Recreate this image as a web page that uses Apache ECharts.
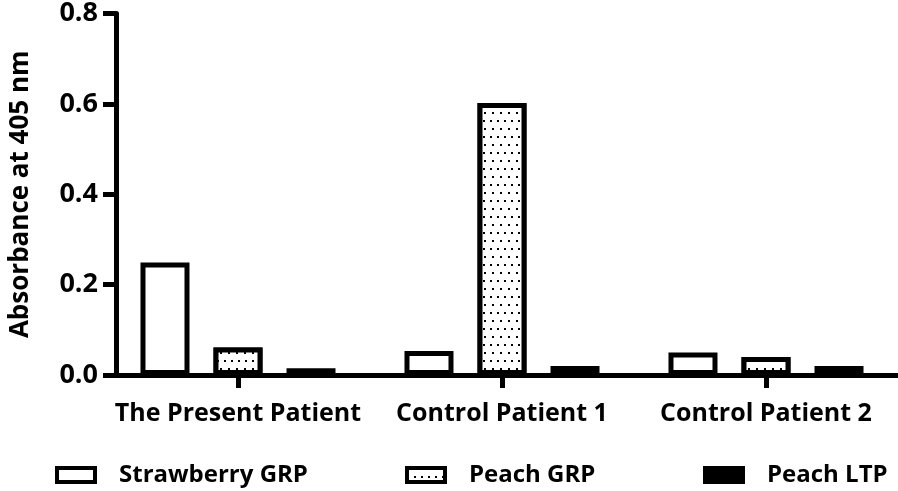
<!DOCTYPE html>
<html>
<head>
<meta charset="utf-8">
<script src="https://cdn.jsdelivr.net/npm/echarts@6/dist/echarts.min.js"></script>
<style>
  html, body { margin: 0; padding: 0; background: #fff; }
  #chart { width: 898px; height: 491px; }
</style>
</head>
<body>
<div id="chart"></div>
<script>
// categories and values
const patients = ['The Present Patient', 'Control Patient 1', 'Control Patient 2'];
const strawberryGRP = [0.249, 0.053, 0.050];
const peachGRP = [0.061, 0.602, 0.040];
const peachLTP = [0.015, 0.020, 0.020];
const yTicks = [0, 0.2, 0.4, 0.6, 0.8];

const FONT = '"Open Sans", sans-serif';

const chart = echarts.init(document.getElementById('chart'));

// dotted fill for the Peach GRP bars
const dots = {
  symbol: 'rect',
  symbolSize: 1,
  color: '#000',
  backgroundColor: '#fff',
  dashArrayX: [[2, 5], [0, 3.5, 2, 1.5]],
  dashArrayY: [2, 5.3],
  rotation: 0
};

const baseBar = {
  type: 'bar',
  barWidth: 49,
  barGap: '49%'
};

function legendFor(name, left) {
  return {
    data: [name],
    left: left,
    top: 458,
    icon: 'rect',
    itemWidth: 38,
    itemHeight: 14,
    itemGap: 0,
    itemStyle: { borderWidth: 4 },
    textStyle: { fontFamily: FONT, fontWeight: 'bold', fontSize: 24, color: '#000', padding: [0, 0, 0, 19] }
  };
}

chart.setOption({
  animation: false,
  grid: { left: 100, right: -8.5, top: 11, bottom: 116, containLabel: false },
  legend: [
    legendFor('Strawberry GRP', 50),
    legendFor('Peach GRP', 400),
    legendFor('Peach LTP', 698)
  ],
  xAxis: {
    type: 'category',
    data: patients,
    axisLine: { lineStyle: { color: '#000', width: 5 } },
    axisTick: { show: true, alignWithLabel: true, interval: 0, length: 13, lineStyle: { color: '#000', width: 5 } },
    axisLabel: { interval: 0, hideOverlap: false, color: '#000', fontFamily: FONT, fontWeight: 'bold', fontSize: 25, margin: 26 }
  },
  yAxis: {
    type: 'value',
    min: 0,
    max: yTicks[yTicks.length - 1],
    interval: 0.2,
    offset: -10,
    name: 'Absorbance at 405 nm',
    nameLocation: 'middle',
    nameGap: 82,
    nameTextStyle: { color: '#000', fontFamily: FONT, fontWeight: 'bold', fontSize: 26 },
    axisLine: { show: true, lineStyle: { color: '#000', width: 5 } },
    axisTick: { show: true, length: 13, lineStyle: { color: '#000', width: 5 } },
    splitLine: { show: false },
    axisLabel: {
      color: '#000', fontFamily: FONT, fontWeight: 'bold', fontSize: 27, margin: 18,
      formatter: v => v.toFixed(1)
    }
  },
  series: [
    Object.assign({}, baseBar, { name: 'Strawberry GRP', data: strawberryGRP,
      itemStyle: { color: '#fff', borderColor: '#000', borderWidth: 5 } }),
    Object.assign({}, baseBar, { name: 'Peach GRP', data: peachGRP,
      itemStyle: { color: '#fff', borderColor: '#000', borderWidth: 5, decal: dots } }),
    Object.assign({}, baseBar, { name: 'Peach LTP', data: peachLTP,
      itemStyle: { color: '#000', borderColor: '#000', borderWidth: 5 } })
  ]
});
</script>
</body>
</html>
